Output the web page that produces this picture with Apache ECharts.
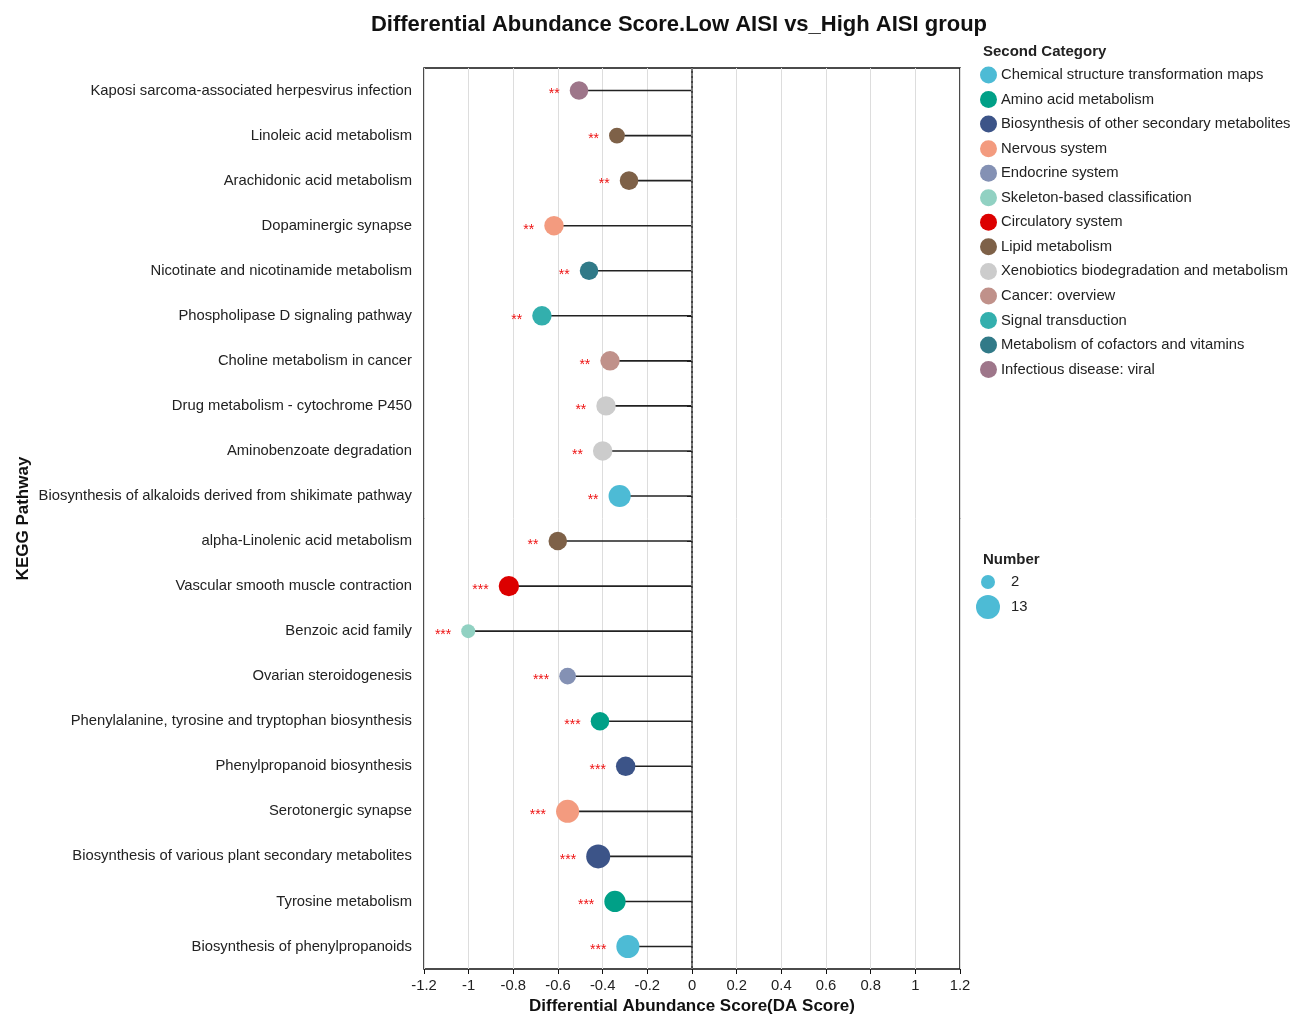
<!DOCTYPE html>
<html>
<head>
<meta charset="utf-8">
<script src="https://cdn.jsdelivr.net/npm/echarts@6/dist/echarts.min.js"></script>
<style>
  html, body { margin: 0; padding: 0; background: #fff; overflow: hidden; }
  #chart { width: 1293px; height: 1015px; }
</style>
</head>
<body>
<div id="chart"></div>
<script>
// KEGG pathways, top to bottom
const pathways = [
  'Kaposi sarcoma-associated herpesvirus infection',
  'Linoleic acid metabolism',
  'Arachidonic acid metabolism',
  'Dopaminergic synapse',
  'Nicotinate and nicotinamide metabolism',
  'Phospholipase D signaling pathway',
  'Choline metabolism in cancer',
  'Drug metabolism - cytochrome P450',
  'Aminobenzoate degradation',
  'Biosynthesis of alkaloids derived from shikimate pathway',
  'alpha-Linolenic acid metabolism',
  'Vascular smooth muscle contraction',
  'Benzoic acid family',
  'Ovarian steroidogenesis',
  'Phenylalanine, tyrosine and tryptophan biosynthesis',
  'Phenylpropanoid biosynthesis',
  'Serotonergic synapse',
  'Biosynthesis of various plant secondary metabolites',
  'Tyrosine metabolism',
  'Biosynthesis of phenylpropanoids'
];

// DA score for each pathway
const daScores = [
  -0.506, -0.336, -0.282, -0.618, -0.461, -0.672, -0.367, -0.385, -0.400, -0.324,
  -0.601, -0.820, -1.002, -0.557, -0.412, -0.297, -0.557, -0.420, -0.345, -0.287
];

// number of metabolites per pathway
const counts = [7, 4, 7, 8, 7, 8, 8, 8, 8, 11, 7, 9, 2, 5, 7, 8, 12, 13, 10, 12];

// significance marks
const stars = [
  '**', '**', '**', '**', '**', '**', '**', '**', '**', '**',
  '**', '***', '***', '***', '***', '***', '***', '***', '***', '***'
];

// second-level category of each pathway
const pathwayCategory = [
  'Infectious disease: viral',
  'Lipid metabolism',
  'Lipid metabolism',
  'Nervous system',
  'Metabolism of cofactors and vitamins',
  'Signal transduction',
  'Cancer: overview',
  'Xenobiotics biodegradation and metabolism',
  'Xenobiotics biodegradation and metabolism',
  'Chemical structure transformation maps',
  'Lipid metabolism',
  'Circulatory system',
  'Skeleton-based classification',
  'Endocrine system',
  'Amino acid metabolism',
  'Biosynthesis of other secondary metabolites',
  'Nervous system',
  'Biosynthesis of other secondary metabolites',
  'Amino acid metabolism',
  'Chemical structure transformation maps'
];

// legend order and colours
const categoryNames = [
  'Chemical structure transformation maps',
  'Amino acid metabolism',
  'Biosynthesis of other secondary metabolites',
  'Nervous system',
  'Endocrine system',
  'Skeleton-based classification',
  'Circulatory system',
  'Lipid metabolism',
  'Xenobiotics biodegradation and metabolism',
  'Cancer: overview',
  'Signal transduction',
  'Metabolism of cofactors and vitamins',
  'Infectious disease: viral'
];
const categoryColors = [
  '#4DBBD5', '#00A087', '#3C5488', '#F39B7F', '#8491B4', '#91D1C2', '#DC0000',
  '#7E6148', '#CCCCCC', '#C0918A', '#33AFAD', '#317A88', '#9E768A'
];

// size legend entries
const sizeLegendValues = [2, 13];

const sizeOf = n => 14 + (n - 2) * 10 / 11;

const FONT = '"Liberation Sans", Arial, sans-serif';
const LABEL_SIZE = 14.8;

const chart = echarts.init(document.getElementById('chart'), null, { width: 1293, height: 1015 });

const starOf = {};
pathways.forEach((p, i) => { starOf[p] = stars[i]; });

const scatterSeries = categoryNames.map((cat, ci) => ({
  name: cat,
  type: 'scatter',
  z: 5,
  itemStyle: { color: categoryColors[ci], opacity: 1 },
  symbol: 'circle',
  symbolSize: v => sizeOf(v[2]),
  label: {
    show: true,
    position: 'left',
    distance: 10,
    formatter: p => starOf[p.value[1]],
    color: '#EE1111',
    fontSize: 14,
    fontFamily: FONT,
    offset: [0, 4]
  },
  data: pathways
    .map((p, i) => ({ p, i }))
    .filter(o => pathwayCategory[o.i] === cat)
    .map(o => [daScores[o.i], o.p, counts[o.i]])
}));

const option = {
  backgroundColor: '#fff',
  animation: false,
  textStyle: { fontFamily: FONT },
  title: [
    {
      text: 'Differential Abundance Score.Low AISI vs_High AISI group',
      left: 674, top: 9, textAlign: 'center',
      textStyle: { fontSize: 22, fontWeight: 'bold', color: '#111', fontFamily: FONT }
    },
    {
      text: 'Second Category', left: 978, top: 39,
      textStyle: { fontSize: 15, fontWeight: 'bold', color: '#222', fontFamily: FONT }
    },
    {
      text: 'Number', left: 978, top: 547,
      textStyle: { fontSize: 15, fontWeight: 'bold', color: '#222', fontFamily: FONT }
    }
  ],
  legend: {
    data: categoryNames,
    orient: 'vertical',
    left: 975, top: 61.5,
    icon: 'circle',
    itemWidth: 17, itemHeight: 17,
    itemGap: 7.55,
    textStyle: { fontSize: LABEL_SIZE, color: '#222', fontFamily: FONT, padding: [0, 0, 0, -1] },
    selectedMode: false
  },
  grid: {
    left: 424, width: 536, top: 68, height: 901,
    outerBoundsMode: 'none',
    containLabel: false,
    show: true, borderColor: '#111', borderWidth: 1.5, backgroundColor: 'transparent'
  },
  xAxis: {
    type: 'value',
    min: -1.2, max: 1.2, interval: 0.2,
    name: 'Differential Abundance Score(DA Score)',
    nameLocation: 'middle', nameGap: 29,
    nameTextStyle: { fontSize: 17, fontWeight: 'bold', color: '#111', fontFamily: FONT },
    axisLine: { lineStyle: { color: '#111', width: 1.5 } },
    axisTick: { show: true, length: 5, lineStyle: { color: '#111' } },
    axisLabel: { fontSize: LABEL_SIZE, color: '#222', margin: 9,
      formatter: v => String(Math.round(v * 10) / 10) },
    splitLine: { show: true, lineStyle: { color: '#DDDDDD', width: 1 } }
  },
  yAxis: {
    type: 'category',
    data: pathways,
    inverse: true,
    name: 'KEGG Pathway',
    nameLocation: 'middle', nameGap: 392, nameRotate: 90,
    nameTextStyle: { fontSize: 17, fontWeight: 'bold', color: '#111', fontFamily: FONT },
    axisLine: { lineStyle: { color: '#111', width: 1.5 } },
    axisTick: { show: true, length: 5, alignWithLabel: true, lineStyle: { color: '#111' } },
    axisLabel: { fontSize: LABEL_SIZE, color: '#222', margin: 12 },
    splitLine: { show: false }
  },
  graphic: [
    ...sizeLegendValues.map((n, k) => ({
      type: 'circle',
      shape: { cx: 988, cy: 582 + k * 25, r: sizeOf(n) / 2 },
      style: { fill: categoryColors[0] }
    })),
    ...sizeLegendValues.map((n, k) => ({
      type: 'text',
      x: 1011, y: 582 + k * 25,
      style: { text: String(n), fill: '#222', font: LABEL_SIZE + 'px ' + FONT, verticalAlign: 'middle' }
    }))
  ],
  series: [
    {
      name: 'stem',
      type: 'bar',
      data: daScores,
      barWidth: 1.6,
      z: 2,
      silent: true,
      itemStyle: { color: '#222' },
      markLine: {
        silent: true,
        symbol: 'none',
        label: { show: false },
        lineStyle: { color: '#777', type: [3, 2], width: 2 },
        data: [{ xAxis: 0 }]
      }
    },
    ...scatterSeries
  ]
};

chart.setOption(option);
</script>
</body>
</html>
